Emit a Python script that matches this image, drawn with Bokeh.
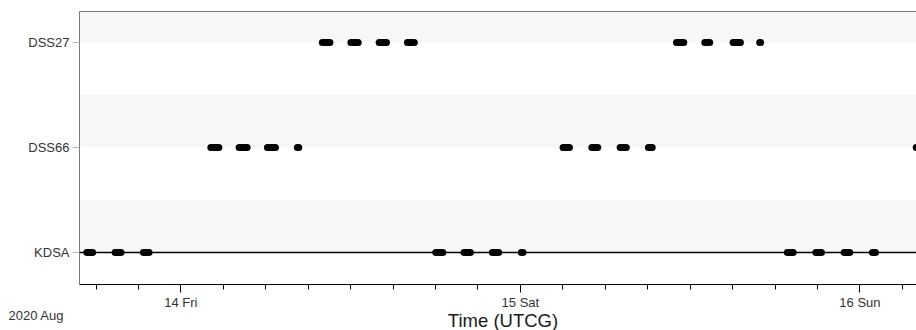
import pandas as pd
from bokeh.plotting import figure
from bokeh.layouts import column
from bokeh.core.properties import value
from bokeh.models import (Range1d, FixedTicker, BoxAnnotation, Span,
                          ColumnDataSource, LinearAxis)
from bokeh.embed import file_html
from bokeh.resources import INLINE

# ground stations, bottom to top
stations = ["KDSA", "DSS66", "DSS27"]

# access windows per station (UTCG)
kdsa_start = ["2020-08-13 17:21", "2020-08-13 19:21", "2020-08-13 21:21",
              "2020-08-14 18:01", "2020-08-14 20:01", "2020-08-14 22:01",
              "2020-08-15 00:04", "2020-08-15 18:52", "2020-08-15 20:53",
              "2020-08-15 22:53", "2020-08-16 00:53"]
kdsa_stop = ["2020-08-13 17:46", "2020-08-13 19:46", "2020-08-13 21:45",
             "2020-08-14 18:31", "2020-08-14 20:28", "2020-08-14 22:28",
             "2020-08-15 00:11", "2020-08-15 19:17", "2020-08-15 21:17",
             "2020-08-15 23:17", "2020-08-16 01:06"]

dss66_start = ["2020-08-14 02:07", "2020-08-14 04:07", "2020-08-14 06:07",
               "2020-08-14 08:14", "2020-08-15 03:01", "2020-08-15 05:03",
               "2020-08-15 07:03", "2020-08-15 09:03", "2020-08-16 03:59"]
dss66_stop = ["2020-08-14 02:41", "2020-08-14 04:41", "2020-08-14 06:41",
              "2020-08-14 08:20", "2020-08-15 03:28", "2020-08-15 05:28",
              "2020-08-15 07:29", "2020-08-15 09:19", "2020-08-16 04:35"]

dss27_start = ["2020-08-14 10:00", "2020-08-14 12:01", "2020-08-14 14:01",
               "2020-08-14 16:01", "2020-08-15 11:02", "2020-08-15 13:02",
               "2020-08-15 15:02", "2020-08-15 16:55"]
dss27_stop = ["2020-08-14 10:32", "2020-08-14 12:32", "2020-08-14 14:32",
              "2020-08-14 16:30", "2020-08-15 11:33", "2020-08-15 13:23",
              "2020-08-15 15:33", "2020-08-15 16:59"]

# day ticks and their labels
day_ticks = ["2020-08-14", "2020-08-15", "2020-08-16"]
day_labels = ["14 Fri", "15 Sat", "16 Sun"]

time_start = "2020-08-13 16:50"
time_end = "2020-08-16 04:00"

# captions under the time axis
period_caption = "2020 Aug"
axis_title = "Time (UTCG)"

FONT = "Liberation Sans"

windows = {"KDSA": (kdsa_start, kdsa_stop),
           "DSS66": (dss66_start, dss66_stop),
           "DSS27": (dss27_start, dss27_stop)}

x0, x1, ys = [], [], []
for name, (starts, stops) in windows.items():
    pos = stations.index(name)
    x0 += list(pd.to_datetime(starts))
    x1 += list(pd.to_datetime(stops))
    ys += [pos] * len(starts)
src = ColumnDataSource(dict(x0=x0, x1=x1, y=ys))


def ms(t):
    return int(pd.Timestamp(t).value // 10**6)


p = figure(width=916, height=312, x_axis_type="datetime",
           x_range=Range1d(pd.Timestamp(time_start), pd.Timestamp(time_end)),
           y_range=Range1d(-0.305, 2.295),
           output_backend="svg", toolbar_location=None,
           min_border_left=79, min_border_right=0, min_border_top=11,
           min_border_bottom=28)
p.frame_align = False
p.xgrid.visible = False
p.ygrid.visible = False
p.outline_line_color = None
p.background_fill_color = "white"
p.border_fill_color = "white"

# alternating shaded bands, one above each station row
for i in range(len(stations)):
    p.add_layout(BoxAnnotation(bottom=i, top=i + 0.5, fill_color="#f7f7f7",
                               fill_alpha=1.0, line_color=None,
                               level="underlay"))

p.add_layout(Span(location=stations.index("KDSA"), dimension="width",
                  line_color="black", line_width=1.5))

p.segment(x0="x0", y0="y", x1="x1", y1="y", source=src,
          line_color="black", line_width=7, line_cap="round")

# x axis: day ticks with labels, 3-hour minor ticks
minor = [ms(t) for t in pd.date_range("2020-08-13 18:00", time_end, freq="3h")]
xa = p.xaxis[0]
xa.ticker = FixedTicker(ticks=[ms(t) for t in day_ticks], minor_ticks=minor)
xa.major_label_overrides = {ms(t): lab for t, lab in zip(day_ticks, day_labels)}
xa.axis_line_color = "black"
xa.axis_line_width = 1
xa.major_tick_line_color = "black"
xa.minor_tick_line_color = "black"
xa.major_tick_out = 8
xa.major_tick_in = 0
xa.minor_tick_out = 5
xa.minor_tick_in = 0
xa.major_label_text_font = FONT
xa.major_label_text_font_size = "13px"
xa.major_label_text_color = "#333333"
xa.major_label_standoff = 2

# plain top border line
top = LinearAxis(ticker=FixedTicker(ticks=[]), axis_line_color="#7a7a7a",
                 major_tick_line_color=None, minor_tick_line_color=None,
                 major_label_text_font_size="0px")
p.add_layout(top, "above")

# y axis: station names
ya = p.yaxis[0]
ya.ticker = FixedTicker(ticks=list(range(len(stations))))
ya.major_label_overrides = {i: s for i, s in enumerate(stations)}
ya.axis_line_color = "#7a7a7a"
ya.major_tick_line_color = "#b5b5b5"
ya.major_tick_out = 7
ya.major_tick_in = 0
ya.minor_tick_line_color = None
ya.major_label_text_font = FONT
ya.major_label_text_font_size = "13px"
ya.major_label_text_color = "#333333"
ya.major_label_standoff = 3

# caption strip under the chart: period on the left, axis title centred
# under the plotting area (pixel-like coordinates, y measured downward)
cap = figure(width=916, height=24, x_range=Range1d(0, 916),
             y_range=Range1d(24, 0), output_backend="svg", title=None,
             x_axis_location=None, y_axis_location=None,
             toolbar_location=None, min_border=0)
cap.frame_align = False
cap.styles = {"margin-top": "-6px"}
cap.grid.visible = False
cap.outline_line_color = None
cap.background_fill_alpha = 0
cap.border_fill_alpha = 0
cap.text(x=[8], y=[8.6], text=[period_caption], text_font=value(FONT),
         text_font_size="13px", text_color="#333333", text_align="left",
         text_baseline="alphabetic")
cap.text(x=[(79 + 916) / 2 + 5], y=[13.5], text=[axis_title],
         text_font=value(FONT), text_font_size="18.5px", text_color="#1a1a1a",
         text_align="center", text_baseline="alphabetic")

layout = column(p, cap, spacing=0)
open("out.html", "w").write(file_html(layout, INLINE))
